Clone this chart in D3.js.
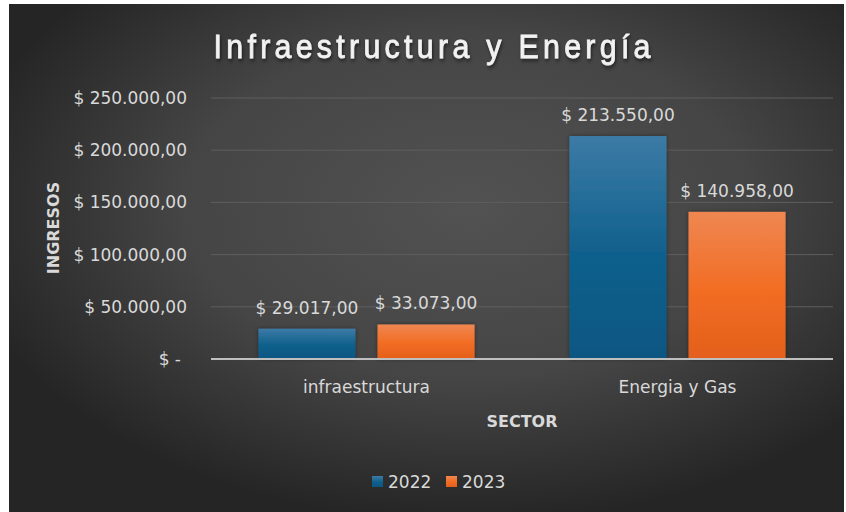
<!DOCTYPE html>
<html>
<head>
<meta charset="utf-8">
<script src="https://cdn.jsdelivr.net/npm/d3@7"></script>
<style>
  body { margin: 0; background: #fff; }
  svg { display: block; }
</style>
</head>
<body>
<script>
// data
var categories = ["infraestructura", "Energia y Gas"];
var years = ["2022", "2023"];
var values2022 = [29017, 213550];
var values2023 = [33073, 140958];
var yTicks = [0, 50000, 100000, 150000, 200000, 250000];

var width = 846,
    height = 512;

var svg = d3.select("body").append("svg")
    .attr("width", width)
    .attr("height", height);

var defs = svg.append("defs");

var bg = defs.append("radialGradient").attr("id", "bg")
    .attr("cx", "55%").attr("cy", "40%").attr("r", "62%");
bg.append("stop").attr("offset", "0%").attr("stop-color", "#525252");
bg.append("stop").attr("offset", "55%").attr("stop-color", "#454545");
bg.append("stop").attr("offset", "100%").attr("stop-color", "#252525");

var gBlue = defs.append("linearGradient").attr("id", "blue")
    .attr("x1", 0).attr("y1", 0).attr("x2", 0).attr("y2", 1);
gBlue.append("stop").attr("offset", "0%").attr("stop-color", "#3c7ba6");
gBlue.append("stop").attr("offset", "55%").attr("stop-color", "#0f5f8c");
gBlue.append("stop").attr("offset", "100%").attr("stop-color", "#0b5782");

var gOrange = defs.append("linearGradient").attr("id", "orange")
    .attr("x1", 0).attr("y1", 0).attr("x2", 0).attr("y2", 1);
gOrange.append("stop").attr("offset", "0%").attr("stop-color", "#ef8752");
gOrange.append("stop").attr("offset", "55%").attr("stop-color", "#f26c22");
gOrange.append("stop").attr("offset", "100%").attr("stop-color", "#e3601d");

var shadow = defs.append("filter").attr("id", "shadow")
    .attr("x", "-10%").attr("y", "-20%").attr("width", "120%").attr("height", "150%");
shadow.append("feDropShadow").attr("dx", 1).attr("dy", 2)
    .attr("stdDeviation", 2).attr("flood-color", "#000").attr("flood-opacity", 0.6);

var barShadow = defs.append("filter").attr("id", "barShadow")
    .attr("x", "-10%").attr("y", "-10%").attr("width", "120%").attr("height", "120%");
barShadow.append("feDropShadow").attr("dx", 0).attr("dy", 0)
    .attr("stdDeviation", 2).attr("flood-color", "#000").attr("flood-opacity", 0.4);

svg.append("rect")
    .attr("x", 9).attr("y", 4)
    .attr("width", 835).attr("height", 508)
    .attr("fill", "url(#bg)");

var locale = d3.formatLocale({decimal: ",", thousands: ".", grouping: [3], currency: ["$", ""]});
var num = locale.format(",.2f");
function money(v) { return v === 0 ? "$ -" : "$ " + num(v); }

var font = "'DejaVu Sans', sans-serif";
var txt = "#d9d9d9";

var x0 = d3.scaleBand()
    .domain(categories)
    .range([211, 833])
    .paddingInner(0.305)
    .paddingOuter(0.1525);

var x1 = d3.scaleBand()
    .domain(years)
    .range([0, x0.bandwidth()])
    .paddingInner(0.185);

var y = d3.scaleLinear()
    .domain([0, 250000])
    .range([359, 98]);

var color = d3.scaleOrdinal().domain(years).range(["url(#blue)", "url(#orange)"]);

// gridlines
svg.append("g")
    .selectAll("line")
    .data(yTicks.filter(function(d) { return d > 0; }))
    .enter().append("line")
    .attr("x1", 211).attr("x2", 833)
    .attr("y1", function(d) { return y(d); })
    .attr("y2", function(d) { return y(d); })
    .attr("stroke", "#5e5e5e")
    .attr("stroke-width", 1);

// y tick labels
svg.append("g")
    .selectAll("text")
    .data(yTicks)
    .enter().append("text")
    .attr("x", function(d) { return d === 0 ? 181 : 187; })
    .attr("y", function(d) { return y(d) + 6; })
    .attr("text-anchor", "end")
    .attr("font-family", font)
    .attr("font-size", 17)
    .attr("fill", txt)
    .text(money);

// bars
var rows = categories.map(function(c, i) {
    return {cat: c, vals: [{year: "2022", v: values2022[i]}, {year: "2023", v: values2023[i]}]};
});

var groups = svg.append("g")
    .selectAll("g")
    .data(rows)
    .enter().append("g")
    .attr("transform", function(d) { return "translate(" + x0(d.cat) + ",0)"; });

groups.selectAll("rect")
    .data(function(d) { return d.vals; })
    .enter().append("rect")
    .attr("x", function(d) { return x1(d.year); })
    .attr("y", function(d) { return y(d.v); })
    .attr("width", x1.bandwidth())
    .attr("height", function(d) { return y(0) - y(d.v); })
    .attr("fill", function(d) { return color(d.year); })
    .attr("filter", "url(#barShadow)");

groups.selectAll("text")
    .data(function(d) { return d.vals; })
    .enter().append("text")
    .attr("x", function(d) { return x1(d.year) + x1.bandwidth() / 2; })
    .attr("y", function(d) { return y(d.v) - 15; })
    .attr("text-anchor", "middle")
    .attr("font-family", font)
    .attr("font-size", 17)
    .attr("fill", txt)
    .text(function(d) { return money(d.v); });

// baseline
svg.append("line")
    .attr("x1", 211).attr("x2", 833)
    .attr("y1", y(0)).attr("y2", y(0))
    .attr("stroke", "#bfbfbf")
    .attr("stroke-width", 2);

// category labels
svg.append("g")
    .selectAll("text")
    .data(categories)
    .enter().append("text")
    .attr("x", function(d) { return x0(d) + x0.bandwidth() / 2; })
    .attr("y", 393)
    .attr("text-anchor", "middle")
    .attr("font-family", font)
    .attr("font-size", 17)
    .attr("fill", txt)
    .text(function(d) { return d; });

// axis titles
svg.append("text")
    .attr("x", 522).attr("y", 427)
    .attr("text-anchor", "middle")
    .attr("font-family", font)
    .attr("font-weight", "bold")
    .attr("font-size", 16)
    .attr("fill", txt)
    .text("SECTOR");

svg.append("text")
    .attr("transform", "translate(59,228) rotate(-90)")
    .attr("text-anchor", "middle")
    .attr("font-family", font)
    .attr("font-weight", "bold")
    .attr("font-size", 16)
    .attr("fill", txt)
    .text("INGRESOS");

// title: narrow look via horizontal squeeze
svg.append("text")
    .attr("transform", "translate(432,58) scale(0.92,1)")
    .attr("text-anchor", "middle")
    .attr("font-family", "'Liberation Sans', Arial, sans-serif")
    .attr("font-size", 33)
    .attr("textLength", 437 / 0.92)
    .attr("lengthAdjust", "spacing")
    .attr("fill", "#f2f2f2")
    .attr("stroke", "#f2f2f2")
    .attr("stroke-width", 0.8)
    .attr("filter", "url(#shadow)")
    .text("Infraestructura y Energía");

// legend
var legend = svg.append("g")
    .selectAll("g")
    .data(years)
    .enter().append("g")
    .attr("transform", function(d, i) { return "translate(" + (372 + i * 74) + ",0)"; });

legend.append("rect")
    .attr("x", 0).attr("y", 476)
    .attr("width", 11).attr("height", 11)
    .attr("fill", function(d) { return color(d); });

legend.append("text")
    .attr("x", 16).attr("y", 488)
    .attr("font-family", font)
    .attr("font-size", 17)
    .attr("fill", txt)
    .text(function(d) { return d; });
</script>
</body>
</html>
